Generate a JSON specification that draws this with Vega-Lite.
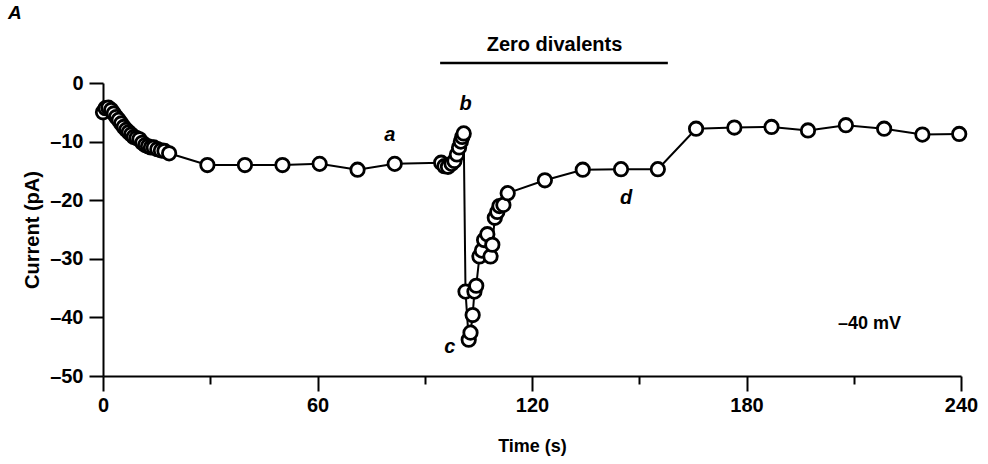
{
  "$schema": "https://vega.github.io/schema/vega-lite/v6.json",
  "width": 858,
  "height": 293,
  "autosize": {"type": "none"},
  "padding": {"left": 103, "top": 83, "right": 27, "bottom": 88},
  "background": "white",
  "config": {"view": {"stroke": null}, "font": "Liberation Sans"},
  "title": {"text": "A", "anchor": "start", "frame": "group", "fontStyle": "italic", "fontWeight": "bold", "fontSize": 19, "color": "black", "dx": -95, "dy": -8},
  "encoding": {
    "x": {
      "field": "t", "type": "quantitative",
      "scale": {"domain": [0, 240], "nice": false, "zero": false},
      "axis": {
        "values": [0, 30, 60, 90, 120, 150, 180, 210, 240],
        "format": "d",
        "labelExpr": "datum.value % 60 === 0 ? datum.label : ''",
        "tickSize": {"condition": {"test": "datum.value % 60 === 0", "value": 15}, "value": 8},
        "labelFlush": false, "labelOverlap": false,
        "grid": false,
        "domainColor": "black", "domainWidth": 2, "tickColor": "black", "tickWidth": 2,
        "labelFontSize": 20, "labelFontWeight": "bold", "labelColor": "black", "labelPadding": 4,
        "title": "Time (s)", "titleFontSize": 18, "titleFontWeight": "bold", "titleColor": "black", "titlePadding": 22
      }
    },
    "y": {
      "field": "y", "type": "quantitative",
      "scale": {"domain": [-50, 0], "nice": false, "zero": false},
      "axis": {
        "values": [-50, -40, -30, -20, -10, 0],
        "labelExpr": "replace(datum.label, '−', '–')",
        "tickSize": 14,
        "labelOverlap": false, "labelFlush": false,
        "grid": false,
        "domainColor": "black", "domainWidth": 2, "tickColor": "black", "tickWidth": 2,
        "labelFontSize": 20, "labelFontWeight": "bold", "labelColor": "black", "labelPadding": 6,
        "title": "Current (pA)", "titleFontSize": 20, "titleFontWeight": "bold", "titleColor": "black", "titlePadding": 7
      }
    }
  },
  "layer": [
    {
      "data": {"name": "series", "values": [
        {"t": 0, "y": -5}, {"t": 0.7, "y": -4.3}, {"t": 1.5, "y": -4.2}, {"t": 2.3, "y": -4.6},
        {"t": 3, "y": -5.2}, {"t": 3.7, "y": -5.8}, {"t": 4.4, "y": -6.3}, {"t": 5.1, "y": -6.9},
        {"t": 5.8, "y": -7.5}, {"t": 6.5, "y": -8}, {"t": 7.2, "y": -8.4}, {"t": 7.9, "y": -8.8},
        {"t": 8.6, "y": -9.2}, {"t": 9.4, "y": -9.4}, {"t": 10.2, "y": -9.6}, {"t": 11, "y": -10.2},
        {"t": 11.8, "y": -10.6}, {"t": 12.6, "y": -10.8}, {"t": 13.4, "y": -11}, {"t": 14.2, "y": -11},
        {"t": 15.2, "y": -11.3}, {"t": 16.2, "y": -11.5}, {"t": 17.2, "y": -11.6}, {"t": 18.5, "y": -12},
        {"t": 29.2, "y": -14}, {"t": 39.7, "y": -14}, {"t": 50.2, "y": -14}, {"t": 60.6, "y": -13.8},
        {"t": 71.2, "y": -14.8}, {"t": 81.6, "y": -13.8},
        {"t": 94.6, "y": -13.6}, {"t": 95.5, "y": -14.2}, {"t": 96.5, "y": -14.3}, {"t": 97.5, "y": -13.8},
        {"t": 98.3, "y": -13.3}, {"t": 99, "y": -12.2}, {"t": 99.6, "y": -11}, {"t": 100.1, "y": -10},
        {"t": 100.5, "y": -9.2}, {"t": 100.9, "y": -8.6},
        {"t": 101.4, "y": -35.6}, {"t": 102.3, "y": -43.8}, {"t": 102.8, "y": -42.6}, {"t": 103.4, "y": -39.6},
        {"t": 103.9, "y": -35.6}, {"t": 104.4, "y": -34.6}, {"t": 105.3, "y": -29.6}, {"t": 106, "y": -28.6},
        {"t": 106.6, "y": -26.8}, {"t": 107.5, "y": -25.8}, {"t": 108.4, "y": -29.6}, {"t": 108.9, "y": -27.6},
        {"t": 109.6, "y": -23}, {"t": 110.3, "y": -22}, {"t": 110.9, "y": -21}, {"t": 112, "y": -20.8},
        {"t": 113.2, "y": -18.8},
        {"t": 123.6, "y": -16.6}, {"t": 134.2, "y": -14.8}, {"t": 144.9, "y": -14.7}, {"t": 155.2, "y": -14.7},
        {"t": 165.9, "y": -7.8}, {"t": 176.6, "y": -7.6}, {"t": 187, "y": -7.5}, {"t": 197.2, "y": -8.1},
        {"t": 207.8, "y": -7.2}, {"t": 218.5, "y": -7.8}, {"t": 229.2, "y": -8.8}, {"t": 239.5, "y": -8.7}
      ]},
      "layer": [
        {"mark": {"type": "line", "color": "black", "strokeWidth": 2}},
        {"mark": {"type": "circle", "size": 180, "fill": "white", "stroke": "black", "strokeWidth": 2.8, "opacity": 1}}
      ]
    },
    {
      "data": {"values": [{"t": 94.3, "t2": 158, "y": 3.4}]},
      "mark": {"type": "rule", "color": "black", "strokeWidth": 2.5},
      "encoding": {"x2": {"field": "t2"}}
    },
    {
      "data": {"values": [{"t": 126.3, "y": 6.5, "label": "Zero divalents"}]},
      "mark": {"type": "text", "fontSize": 20, "fontWeight": "bold", "color": "black"},
      "encoding": {"text": {"field": "label"}}
    },
    {
      "data": {"values": [{"t": 214.4, "y": -41.2, "label": "–40 mV"}]},
      "mark": {"type": "text", "fontSize": 18, "fontWeight": "bold", "color": "black"},
      "encoding": {"text": {"field": "label"}}
    },
    {
      "data": {"values": [
        {"t": 80.2, "y": -8.8, "label": "a"}, {"t": 101.4, "y": -3.6, "label": "b"},
        {"t": 97, "y": -45.1, "label": "c"}, {"t": 146.3, "y": -19.6, "label": "d"}
      ]},
      "mark": {"type": "text", "fontSize": 20, "fontWeight": "bold", "fontStyle": "italic", "color": "black"},
      "encoding": {"text": {"field": "label"}}
    }
  ]
}
